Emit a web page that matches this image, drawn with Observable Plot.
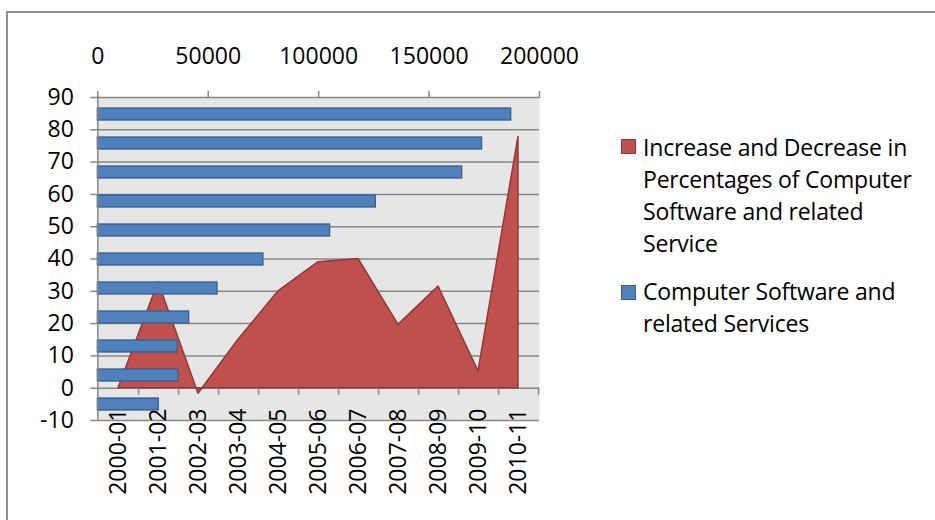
<!DOCTYPE html>
<html>
<head>
<meta charset="utf-8">
<script src="https://cdn.jsdelivr.net/npm/d3@7"></script>
<script src="https://cdn.jsdelivr.net/npm/@observablehq/plot@0.6"></script>
<style>
  html, body { margin: 0; padding: 0; background: #fff; overflow: hidden; }
  #wrap { position: relative; width: 935px; height: 520px; overflow: hidden; }
  #border { position: absolute; left: 6px; top: 11px; width: 1000px; height: 600px; border: 2px solid #8e8e8e; box-sizing: border-box; }
  .layer { position: absolute; left: 0; top: 0; }
  #legend { position: absolute; left: 621px; top: 131px; font-family: "Open Sans", sans-serif; font-size: 23px; line-height: 32px; color: #000; white-space: nowrap; letter-spacing: -0.2px; }
  .item { position: relative; padding-left: 22px; }
  .sw { position: absolute; left: 0; width: 15px; height: 15px; box-sizing: border-box; border: 1px solid; }
</style>
</head>
<body>
<div id="wrap">
  <div id="border"></div>
  <div id="layerA" class="layer"></div>
  <div id="layerB" class="layer"></div>
  <div id="legend"></div>
</div>
<script>
// ---- data ----
const categories = ["2000-01","2001-02","2002-03","2003-04","2004-05","2005-06","2006-07","2007-08","2008-09","2009-10","2010-11"];
const softwareServices = [27600, 36500, 36100, 41400, 54200, 75000, 105200, 125900, 165000, 174000, 187200];
const changePercent = [0, 32.8, -1.7, 15, 30, 39, 40, 19.6, 31.5, 5.2, 77.8];
const yTicks = [-10, 0, 10, 20, 30, 40, 50, 60, 70, 80, 90];
const xTicks = [0, 50000, 100000, 150000, 200000];
const seriesNames = [
  "Increase and Decrease in Percentages of Computer Software and related Service",
  "Computer Software and related Services"
];
const legendLines = [
  ["Increase and Decrease in", "Percentages of Computer", "Software and related", "Service"],
  ["Computer Software and", "related Services"]
];
const seriesColors = ["#C0504D", "#4F81BD"];
const seriesStrokes = ["#8E3A38", "#3A5F8E"];

const rows = categories.map((c, i) => ({cat: c, sales: softwareServices[i], pct: changePercent[i]}));

const FONT = "'Open Sans', sans-serif";
const FS = 23;
const W = 935, H = 520;
const M = {left: 97.3, right: 396, top: 97, bottom: 100};
const GRID = "#878787";
const bandHalf = (W - M.left - M.right) / categories.length / 2;

// ---- layer A: plot area, gridlines, area, left axis, category axis ----
const plotA = Plot.plot({
  width: W, height: H,
  marginLeft: M.left, marginRight: M.right, marginTop: M.top, marginBottom: M.bottom,
  style: {fontFamily: FONT, background: "transparent", overflow: "visible", color: "#000"},
  x: {type: "band", domain: categories, paddingInner: 0, paddingOuter: 0, label: null},
  y: {domain: [-10, 90], label: null},
  marks: [
    Plot.frame({fill: "#e6e6e6", stroke: null}),
    Plot.ruleY(yTicks, {stroke: GRID, strokeWidth: 1.5}),
    Plot.areaY(rows, {x: "cat", y: "pct", fill: seriesColors[0], stroke: seriesStrokes[0], strokeWidth: 1.5, curve: "linear"}),
    Plot.ruleX(categories, {x: d => d, y1: 0, y2: -2.2, dx: bandHalf, stroke: GRID, strokeWidth: 1.5}),
    Plot.axisY({ticks: yTicks, tickFormat: d => String(d), tickSize: 7, tickPadding: 17, fontSize: FS, stroke: GRID, strokeWidth: 1.5, fill: "#000", label: null}),
    Plot.axisX({anchor: "bottom", tickRotate: -90, tickSize: 0, tickPadding: -12, fontSize: FS, fill: "#000", label: null})
  ]
});
document.getElementById("layerA").appendChild(plotA);

// ---- layer B: bars, top axis, left axis line ----
const plotB = Plot.plot({
  width: W, height: H,
  marginLeft: M.left, marginRight: M.right, marginTop: M.top, marginBottom: M.bottom,
  style: {fontFamily: FONT, background: "transparent", overflow: "visible", color: "#000"},
  x: {domain: [0, 200000], label: null},
  y: {type: "band", domain: categories.slice().reverse(), paddingInner: 0.6, paddingOuter: 0.3, axis: null, label: null},
  marks: [
    Plot.barX(rows, {x: "sales", y: "cat", fill: seriesColors[1], stroke: seriesStrokes[1], strokeWidth: 1.3}),
    Plot.ruleX([0], {stroke: GRID, strokeWidth: 1.5}),
    Plot.axisX({anchor: "top", ticks: xTicks, tickFormat: d => String(d), tickSize: 7, tickPadding: 27, fontSize: FS, stroke: GRID, strokeWidth: 1.5, fill: "#000", label: null})
  ]
});
document.getElementById("layerB").appendChild(plotB);

// ---- legend ----
const legend = d3.select("#legend");
seriesNames.forEach((name, i) => {
  const item = legend.append("div").attr("class", "item").attr("title", name)
    .style("margin-top", i === 0 ? "0px" : "16px");
  item.append("span").attr("class", "sw")
    .style("top", i === 0 ? "8px" : "10px")
    .style("background", seriesColors[i]).style("border-color", seriesStrokes[i]);
  item.append("div").html(legendLines[i].join("<br>"));
});
</script>
</body>
</html>
